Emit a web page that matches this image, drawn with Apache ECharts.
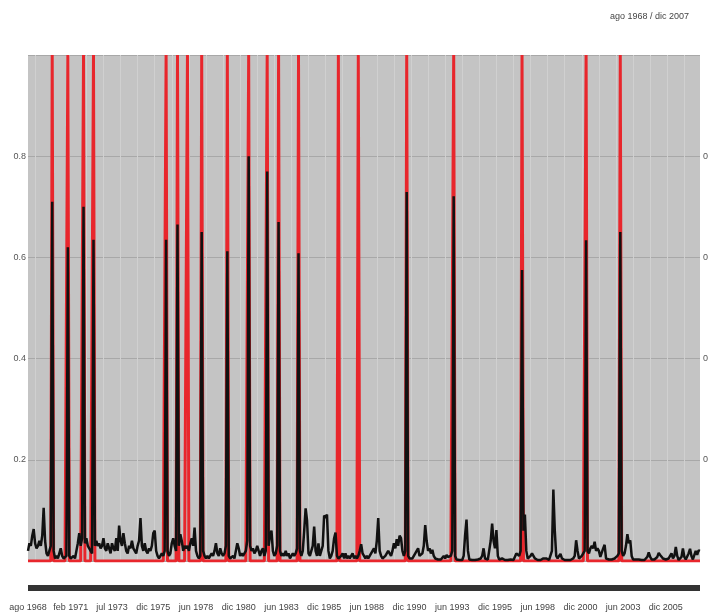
<!DOCTYPE html>
<html><head><meta charset="utf-8">
<script src="https://cdn.jsdelivr.net/npm/echarts@6/dist/echarts.min.js"></script>
<style>html,body{margin:0;padding:0;background:#fff}#c{width:708px;height:613px}</style>
</head><body><div id="c"></div>
<script>
// Monthly categories: ago 1968 .. dic 2007
const monthNames = ['ene','feb','mar','abr','may','jun','jul','ago','sep','oct','nov','dic'];
const startYear = 1968, startMonth = 7, nMonths = 473;
const categories = [];
for (let i = 0; i < nMonths; i++) {
  const k = startMonth + i;
  categories.push(monthNames[k % 12] + ' ' + (startYear + Math.floor(k / 12)));
}
// Tick labels shown on the x axis
const tickLabels = ['ago 1968','feb 1971','jul 1973','dic 1975','jun 1978','dic 1980','jun 1983','dic 1985',
  'jun 1988','dic 1990','jun 1993','dic 1995','jun 1998','dic 2000','jun 2003','dic 2005'];
// Months flagged as events (red)
const eventMonths = ['ene 1970','dic 1970','nov 1971','jun 1972','sep 1976','may 1977','dic 1977','oct 1978',
  'abr 1980','jul 1981','ago 1982','abr 1983','jun 1984','oct 1986','dic 1987','oct 1990','jul 1993',
  'jul 1997','abr 2001','abr 2003'];
// Estimated probability (black line)
const probability = [
0.02,0.035,0.03,0.05,0.063,0.035,0.025,0.03,0.04,0.03,
0.05,0.105,0.04,0.015,0.01,0.02,0.03,0.71,0.02,0.005,
0.01,0.005,0.015,0.025,0.01,0.005,0.005,0.01,0.62,0.01,
0.005,0.005,0.01,0.005,0.02,0.035,0.055,0.03,0.045,0.70,
0.035,0.045,0.03,0.025,0.02,0.015,0.635,0.03,0.04,0.03,
0.035,0.025,0.03,0.045,0.025,0.02,0.035,0.025,0.015,0.035,
0.025,0.02,0.045,0.02,0.07,0.04,0.03,0.055,0.035,0.02,
0.015,0.03,0.025,0.04,0.025,0.02,0.015,0.03,0.04,0.085,
0.03,0.02,0.035,0.02,0.015,0.025,0.02,0.03,0.055,0.06,
0.02,0.01,0.005,0.01,0.015,0.01,0.02,0.635,0.02,0.01,
0.015,0.035,0.045,0.03,0.02,0.665,0.03,0.053,0.04,0.02,
0.03,0.025,0.03,0.02,0.035,0.045,0.03,0.066,0.02,0.01,
0.005,0.01,0.65,0.02,0.01,0.005,0.01,0.005,0.01,0.015,
0.01,0.02,0.035,0.015,0.01,0.025,0.015,0.01,0.015,0.03,
0.612,0.01,0.005,0.005,0.01,0.005,0.02,0.035,0.025,0.01,
0.015,0.01,0.015,0.02,0.04,0.80,0.03,0.02,0.025,0.015,
0.02,0.03,0.03,0.01,0.02,0.025,0.01,0.02,0.77,0.03,
0.05,0.06,0.02,0.01,0.015,0.03,0.67,0.02,0.01,0.015,
0.01,0.02,0.01,0.015,0.005,0.01,0.015,0.01,0.015,0.025,
0.608,0.02,0.01,0.02,0.06,0.104,0.08,0.015,0.01,0.02,
0.03,0.068,0.02,0.01,0.035,0.01,0.01,0.03,0.09,0.085,
0.092,0.02,0.005,0.01,0.02,0.045,0.056,0.01,0.005,0.005,
0.01,0.015,0.005,0.015,0.005,0.01,0.005,0.01,0.015,0.005,
0.01,0.005,0.01,0.02,0.033,0.015,0.01,0.005,0.01,0.005,
0.01,0.015,0.02,0.025,0.015,0.04,0.085,0.02,0.01,0.005,
0.005,0.01,0.015,0.02,0.015,0.01,0.02,0.035,0.025,0.043,
0.03,0.05,0.045,0.02,0.01,0.02,0.729,0.01,0.005,0.005,
0.005,0.01,0.015,0.02,0.025,0.01,0.01,0.015,0.03,0.071,
0.04,0.02,0.025,0.015,0.022,0.01,0.005,0.005,0.003,0.005,
0.003,0.005,0.01,0.005,0.012,0.008,0.005,0.01,0.02,0.721,
0.01,0.003,0.002,0.002,0.003,0.002,0.01,0.05,0.082,0.02,
0.003,0.002,0.002,0.002,0.002,0.002,0.003,0.002,0.005,0.01,
0.025,0.005,0.002,0.003,0.005,0.04,0.074,0.04,0.025,0.061,
0.01,0.003,0.005,0.005,0.003,0.002,0.002,0.002,0.002,0.003,
0.002,0.002,0.005,0.015,0.012,0.01,0.02,0.575,0.06,0.092,
0.02,0.005,0.005,0.01,0.015,0.018,0.005,0.002,0.002,0.002,
0.002,0.002,0.005,0.008,0.005,0.002,0.002,0.005,0.02,0.141,
0.06,0.01,0.005,0.01,0.014,0.005,0.002,0.002,0.002,0.002,
0.002,0.002,0.003,0.005,0.01,0.041,0.02,0.005,0.008,0.01,
0.012,0.02,0.634,0.02,0.015,0.025,0.03,0.025,0.038,0.02,
0.025,0.02,0.008,0.01,0.025,0.032,0.005,0.002,0.003,0.002,
0.003,0.003,0.005,0.008,0.01,0.015,0.65,0.02,0.01,0.015,
0.03,0.053,0.035,0.041,0.01,0.003,0.002,0.003,0.005,0.003,
0.003,0.002,0.003,0.002,0.003,0.008,0.017,0.008,0.003,0.002,
0.003,0.002,0.008,0.016,0.012,0.015,0.005,0.002,0.003,0.002,
0.005,0.01,0.015,0.005,0.01,0.028,0.01,0.002,0.003,0.008,
0.025,0.008,0.003,0.005,0.015,0.024,0.01,0.003,0.005,0.02,
0.012,0.021,0.02
];
const eventSeries = categories.map(c => eventMonths.includes(c) ? 1 : 0);

const chart = echarts.init(document.getElementById('c'), null, {renderer: 'canvas'});
const yLabelFmt = v => (v > 0.001 && v < 0.999) ? v.toFixed(1) : '';
const font = 'Liberation Sans, Arial, sans-serif';
chart.setOption({
  animation: false,
  backgroundColor: '#ffffff',
  title: {
    text: 'ago 1968 / dic 2007', right: 14, top: 7,
    textStyle: {fontSize: 9, fontWeight: 'normal', color: '#444', fontFamily: font}
  },
  grid: {left: 28, right: 8, top: 55, bottom: 52, outerBoundsMode: 'none', containLabel: false,
         show: true, backgroundColor: '#c4c4c4', borderWidth: 0},
  xAxis: {
    type: 'category', data: categories, boundaryGap: false, offset: 27,
    axisLine: {show: true, onZero: false, lineStyle: {color: '#333', width: 6, cap: 'butt'}},
    axisTick: {show: false},
    axisLabel: {
      interval: (i, v) => tickLabels.includes(v), margin: 15,
      fontSize: 9, color: '#444', fontFamily: font
    },
    splitLine: {show: true, interval: (i, v) => v.startsWith('ene'), lineStyle: {color: '#d0d0d0', width: 1}}
  },
  yAxis: [
    {type: 'value', min: 0, max: 1, interval: 0.2,
     axisLine: {show: false}, axisTick: {show: false},
     axisLabel: {formatter: yLabelFmt, margin: 2, fontSize: 9, color: '#555', fontFamily: font},
     splitLine: {show: true, lineStyle: {color: '#a8a8a8', width: 1}}},
    {type: 'value', min: 0, max: 1, interval: 0.2, position: 'right',
     axisLine: {show: false}, axisTick: {show: false},
     axisLabel: {formatter: yLabelFmt, margin: 3, fontSize: 9, color: '#555', fontFamily: font},
     splitLine: {show: false}}
  ],
  series: [
    {type: 'line', data: eventSeries, symbol: 'none', z: 2,
     lineStyle: {color: '#e8262c', width: 3}},
    {type: 'line', data: probability, symbol: 'none', z: 3,
     lineStyle: {color: '#111111', width: 2.5}}
  ]
});
</script>
</body></html>
